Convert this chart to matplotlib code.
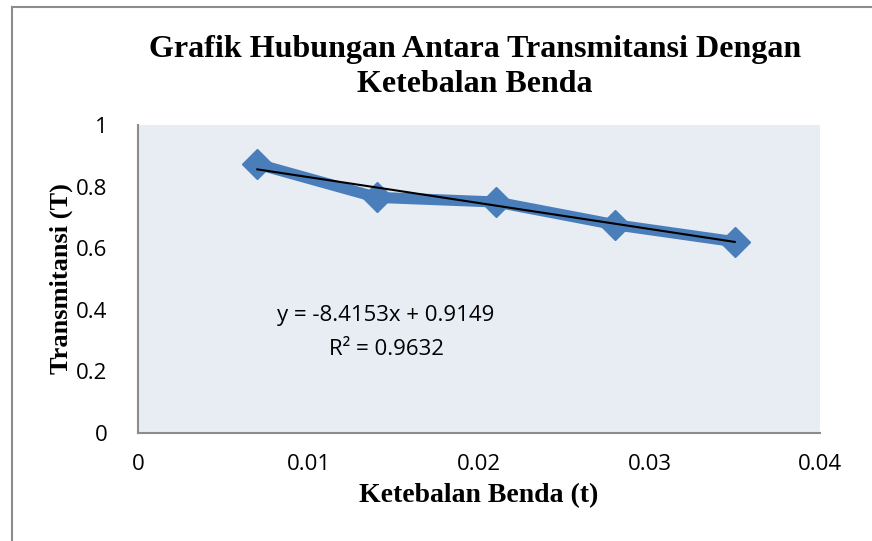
import numpy as np
import matplotlib.pyplot as plt
from matplotlib.lines import Line2D

# data
tebal = [0.007, 0.014, 0.021, 0.028, 0.035]
transmitansi = [0.873, 0.765, 0.750, 0.676, 0.621]
slope = -8.4153
intercept = 0.9149
r2 = 0.9632

xticks = [0, 0.01, 0.02, 0.03, 0.04]
xticklabels = ['0', '0.01', '0.02', '0.03', '0.04']
yticks = [0, 0.2, 0.4, 0.6, 0.8, 1]
yticklabels = ['0', '0.2', '0.4', '0.6', '0.8', '1']

blue = '#4A7EBB'
serif = 'Liberation Serif'
sans = 'Open Sans'

fig = plt.figure(figsize=(8.72, 5.41), dpi=100)
ax = fig.add_axes([138/872, 1-433/541, (820-138)/872, (433-125)/541])
ax.set_facecolor('#E8EDF4')

ax.plot(tebal, transmitansi, color=blue, lw=8, marker='D', ms=15,
        solid_joinstyle='round', solid_capstyle='round', zorder=2)

xf = np.array([tebal[0], tebal[-1]])
ax.plot(xf, slope*xf + intercept, color='black', lw=1.5, zorder=3)

ax.set_xlim(0, 0.04)
ax.set_ylim(0, 1)
ax.set_xticks(xticks)
ax.set_xticklabels(xticklabels, fontfamily=sans, fontsize=16)
ax.set_yticks(yticks)
ax.set_yticklabels(yticklabels, fontfamily=sans, fontsize=16)
ax.tick_params(axis='x', length=0, pad=15)
ax.tick_params(axis='y', length=0, pad=22)
for s in ['top', 'right']:
    ax.spines[s].set_visible(False)
for s in ['left', 'bottom']:
    ax.spines[s].set_color('#8C8C8C')
    ax.spines[s].set_linewidth(1.5)

ax.set_xlabel('Ketebalan Benda (t)', fontfamily=serif, fontweight='bold',
              fontsize=20, labelpad=6)
ax.set_ylabel('Transmitansi (T)', fontfamily=serif, fontweight='bold',
              fontsize=19, labelpad=2)

ax.text(0.01455, 0.382, f'y = {slope}x + {intercept}', fontfamily=sans,
        fontsize=16, ha='center', va='center')
ax.text(0.01455, 0.272, f'R² = {r2}', fontfamily=sans, fontsize=16,
        ha='center', va='center')

fig.text(475/872, 1-67/541, 'Grafik Hubungan Antara Transmitansi Dengan\nKetebalan Benda',
         fontfamily=serif, fontweight='bold', fontsize=23, ha='center',
         va='center', linespacing=1.25)

# chart border (left and top edge visible)
fig.add_artist(Line2D([12/872, 12/872], [0, 1-7/541], color='#8C8C8C', lw=1.5,
                      transform=fig.transFigure))
fig.add_artist(Line2D([12/872, 1], [1-7/541, 1-7/541], color='#8C8C8C', lw=1.5,
                      transform=fig.transFigure))

fig.savefig('out.png', dpi=100)
